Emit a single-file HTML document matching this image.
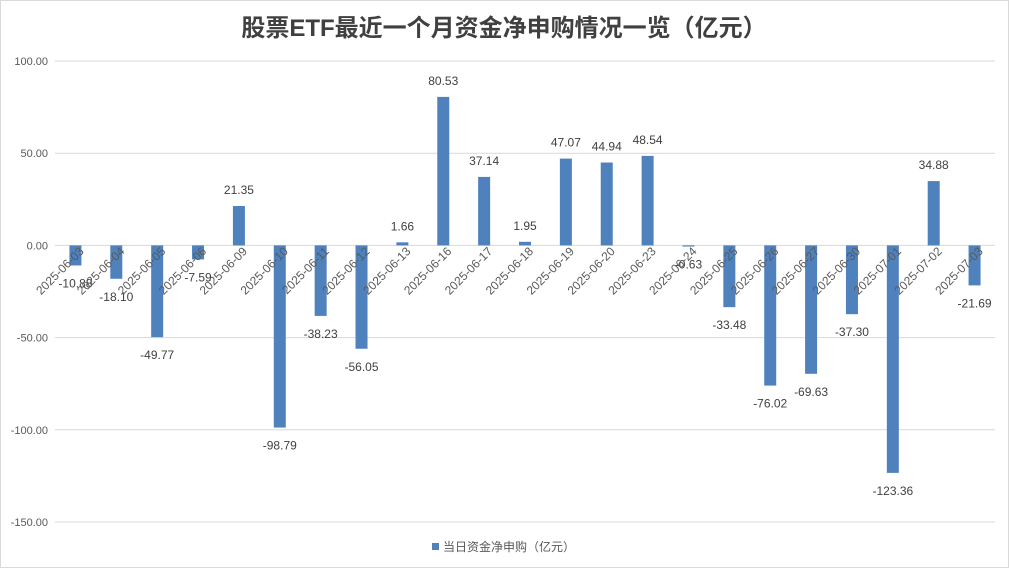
<!DOCTYPE html>
<html><head><meta charset="utf-8"><style>
body{margin:0;background:#fff}
svg{display:block;font-family:"Liberation Sans","Noto Sans CJK SC",sans-serif}
</style></head><body>
<svg id="c" width="1009" height="568">
<rect x="0.5" y="0.5" width="1008" height="567" fill="#fff" stroke="#d9d9d9"/>
<text x="504" y="36" text-anchor="middle" font-size="24" font-weight="bold" fill="#404040" font-family="'Liberation Sans','Noto Sans CJK SC',sans-serif">股票ETF最近一个月资金净申购情况一览（亿元）</text>
<g id="grid"></g><g id="bars"></g><g id="labels"></g>
<g>
<rect x="432" y="543" width="7" height="7" fill="#4f81bd"/>
<text x="443" y="551" font-size="12" fill="#595959">当日资金净申购（亿元）</text>
</g>
</svg>
<script>
const categories=["2025-06-03","2025-06-04","2025-06-05","2025-06-06","2025-06-09","2025-06-10","2025-06-11","2025-06-12","2025-06-13","2025-06-16","2025-06-17","2025-06-18","2025-06-19","2025-06-20","2025-06-23","2025-06-24","2025-06-25","2025-06-26","2025-06-27","2025-06-30","2025-07-01","2025-07-02","2025-07-03"];
const values=[-10.88,-18.10,-49.77,-7.59,21.35,-98.79,-38.23,-56.05,1.66,80.53,37.14,1.95,47.07,44.94,48.54,-0.63,-33.48,-76.02,-69.63,-37.30,-123.36,34.88,-21.69];
const ticks=[100,50,0,-50,-100,-150];
const NS="http://www.w3.org/2000/svg";
const L=55,R=995,T=61,B=522,ymax=100,ymin=-150;
const y=v=>T+(ymax-v)/(ymax-ymin)*(B-T);
const step=(R-L)/categories.length;
const x=i=>L+step*(i+0.5);
function mk(tag,attrs,parent,txt){const e=document.createElementNS(NS,tag);for(const k in attrs)e.setAttribute(k,attrs[k]);if(txt!==undefined)e.textContent=txt;parent.appendChild(e);return e;}
const g=document.getElementById('grid'),gb=document.getElementById('bars'),gl=document.getElementById('labels');
ticks.forEach(t=>{
 const ln=mk('line',{x1:L,x2:R,y1:y(t),y2:y(t),stroke:'#d9d9d9'},g);
 
 
 const tx=mk('text',{x:48,y:y(t)+4,'text-anchor':'end','font-size':11,fill:'#595959'},g,t.toFixed(2));
 
 
});
const bw=12;
values.forEach((v,i)=>{
 const cx=x(i),y0=y(0),yv=y(v);
 const r=mk('rect',{x:cx-bw/2,y:Math.min(y0,yv),width:bw,height:Math.max(Math.abs(yv-y0),0.5),fill:'#4f81bd'},gb);
 
 
 const ly=v>=0?yv-12:yv+22;
 const vt=mk('text',{x:cx,y:ly,'text-anchor':'middle','font-size':12,fill:'#404040'},gl,v.toFixed(2));
 
 
 const ct=mk('text',{x:cx+9,y:252,'text-anchor':'end','font-size':12,fill:'#595959',transform:`rotate(-45 ${cx+9} 252)`},gl,categories[i]);
 
 
});
</script>
</body></html>
